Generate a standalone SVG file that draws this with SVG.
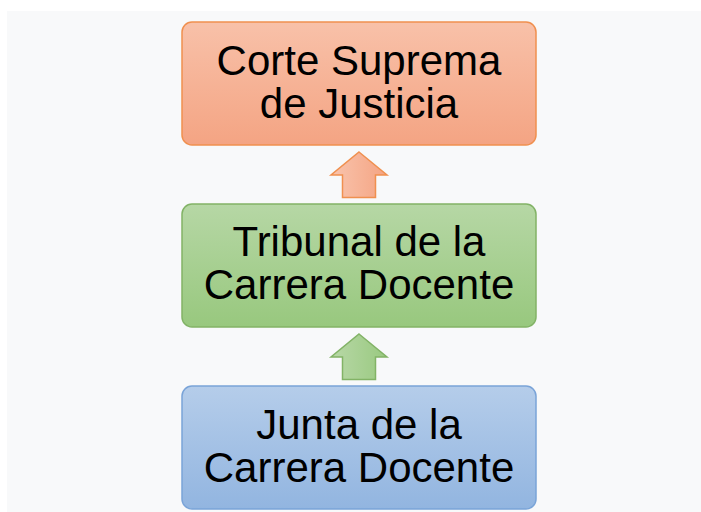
<svg xmlns="http://www.w3.org/2000/svg" width="701" height="512" viewBox="0 0 701 512">
  <defs>
    <linearGradient id="gOrange" x1="0" y1="0" x2="0" y2="1">
      <stop offset="0" stop-color="#f8c1a9"/>
      <stop offset="1" stop-color="#f4a483"/>
    </linearGradient>
    <linearGradient id="gGreen" x1="0" y1="0" x2="0" y2="1">
      <stop offset="0" stop-color="#b6d7a5"/>
      <stop offset="1" stop-color="#98c87e"/>
    </linearGradient>
    <linearGradient id="gBlue" x1="0" y1="0" x2="0" y2="1">
      <stop offset="0" stop-color="#b5cdea"/>
      <stop offset="1" stop-color="#92b5e0"/>
    </linearGradient>
    <linearGradient id="aOrange" x1="0" y1="0" x2="1" y2="0">
      <stop offset="0" stop-color="#f9c4ad"/>
      <stop offset="1" stop-color="#f4a483"/>
    </linearGradient>
    <linearGradient id="aGreen" x1="0" y1="0" x2="1" y2="0">
      <stop offset="0" stop-color="#b8d8a7"/>
      <stop offset="1" stop-color="#99c980"/>
    </linearGradient>
  </defs>
  <style>
    .box { stroke-width: 1.5; }
    .lbl { font-family: "Liberation Sans", Arial, sans-serif; font-size: 42px; fill: #000; text-anchor: middle; }
    .arrow { stroke-width: 1.5; stroke-linejoin: miter; }
  </style>
  <rect x="0" y="0" width="701" height="512" fill="#ffffff"/>
  <rect x="7" y="11" width="694" height="501" fill="#f8f9fa"/>

  <g id="corte-suprema">
    <rect class="box" x="182" y="22" width="354" height="123" rx="10" ry="10" fill="url(#gOrange)" stroke="#f0904f"/>
    <text class="lbl" x="359" y="75">Corte Suprema</text>
    <text class="lbl" x="359" y="118">de Justicia</text>
  </g>

  <g id="tribunal">
    <rect class="box" x="182" y="204" width="354" height="123" rx="10" ry="10" fill="url(#gGreen)" stroke="#82b366"/>
    <text class="lbl" x="359" y="256">Tribunal de la</text>
    <text class="lbl" x="359" y="299">Carrera Docente</text>
  </g>

  <g id="junta">
    <rect class="box" x="182" y="386" width="354" height="123" rx="10" ry="10" fill="url(#gBlue)" stroke="#7aa4d8"/>
    <text class="lbl" x="359" y="439">Junta de la</text>
    <text class="lbl" x="359" y="482">Carrera Docente</text>
  </g>

  <g id="connectors">
    <polygon class="arrow" points="359,152 387,175 375.5,175 375.5,197.5 342.5,197.5 342.5,175 331,175" fill="url(#aOrange)" stroke="#f0904f"/>
    <polygon class="arrow" points="359,334 387,357 375.5,357 375.5,379.5 342.5,379.5 342.5,357 331,357" fill="url(#aGreen)" stroke="#82b366"/>
  </g>
</svg>
